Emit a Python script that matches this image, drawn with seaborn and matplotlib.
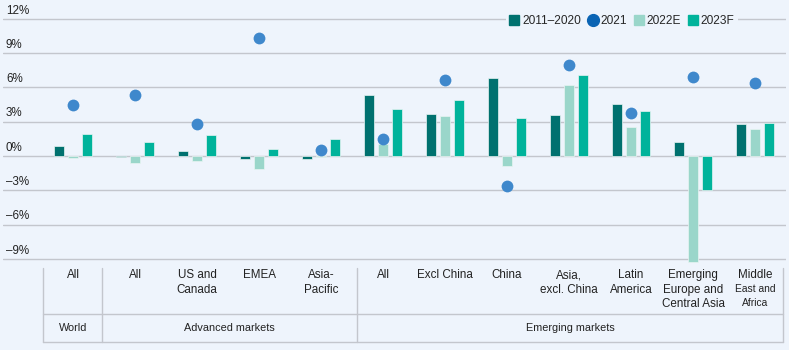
import matplotlib
matplotlib.use("Agg")
import matplotlib.pyplot as plt
import seaborn as sns
import pandas as pd
from matplotlib.lines import Line2D

categories = ["All", "All ", "US and\nCanada", "EMEA", "Asia-\nPacific", "All  ",
              "Excl China", "China", "Asia,\nexcl. China", "Latin\nAmerica",
              "Emerging\nEurope and\nCentral Asia", "Middle\nEast and\nAfrica"]
groups = ["World", "Advanced markets", "Emerging markets"]
series = ["2011–2020", "2022E", "2023F"]
v_2011_2020 = [0.9, -0.1, 0.4, -0.3, -0.3, 5.3, 3.7, 6.8, 3.55, 4.55, 1.2, 2.8]
v_2022E = [-0.2, -0.6, -0.4, -1.1, -0.1, 1.05, 3.5, -0.9, 6.2, 2.5, -9.3, 2.35]
v_2023F = [1.9, 1.2, 1.8, 0.6, 1.5, 4.1, 4.9, 3.35, 7.1, 3.9, -3.0, 2.9]
v_2021 = [4.5, 5.3, 2.8, 10.3, 0.55, 1.45, 6.65, -2.6, 8.0, 3.75, 6.95, 6.35]
yticks = [12, 9, 6, 3, 0, -3, -6, -9]
ytick_labels = ["12%", "9%", "6%", "3%", "0%", "–3%", "–6%", "–9%"]

BG = "#eef4fc"
C_DARK = "#00716f"
C_LIGHT = "#9ad6ca"
C_GREEN = "#00b39b"
C_DOT = "#3f88cc"
C_DOT_LEG = "#0a64b4"
GRID = "#c3c6cd"
TXT = "#222222"

rows = []
for vals, s in zip([v_2011_2020, v_2022E, v_2023F], series):
    for c, v in zip(categories, vals):
        rows.append({"cat": c, "series": s, "value": v})
df = pd.DataFrame(rows)
dots = pd.DataFrame({"cat": categories, "value": v_2021})

sns.set_theme(style="white")
plt.rcParams["font.family"] = ["Liberation Sans", "DejaVu Sans"]

W, H = 789, 350
fig = plt.figure(figsize=(W / 100, H / 100), dpi=100, facecolor=BG)
ylo, yhi = -9.7, 13.3
px_per = 11.43
top_px = 156 - yhi * px_per
bot_px = 156 - ylo * px_per
ax = fig.add_axes([3 / W, 1 - bot_px / H, 783 / W, (bot_px - top_px) / H])
ax.set_facecolor(BG)

for t in yticks:
    ax.axhline(t, color=GRID, lw=1.0, zorder=0)

sns.barplot(data=df, x="cat", y="value", hue="series", order=categories,
            hue_order=series, palette=[C_DARK, C_LIGHT, C_GREEN],
            saturation=1, width=0.68, gap=0.29, ax=ax, legend=False, zorder=2,
            edgecolor="#e8f4f2", linewidth=0.5)
sns.stripplot(data=dots, x="cat", y="value", order=categories, jitter=False,
              color=C_DOT, size=8.5, ax=ax, zorder=3, linewidth=0)

ax.set_xlim(-1.13, 11.5)
ax.set_ylim(ylo, yhi)
for s in ax.spines.values():
    s.set_visible(False)
ax.set_xticks([])
ax.set_yticks([])
ax.set_xlabel("")
ax.set_ylabel("")
for t, lab in zip(yticks, ytick_labels):
    ax.text(3 / 783, t + 0.72, lab, transform=ax.get_yaxis_transform(),
            ha="left", va="center", fontsize=8.4, color=TXT)

# legend
handles = [
    Line2D([], [], marker="s", ls="", color=C_DARK, markersize=7.5),
    Line2D([], [], marker="o", ls="", color=C_DOT_LEG, markersize=8.5),
    Line2D([], [], marker="s", ls="", color=C_LIGHT, markersize=7.5),
    Line2D([], [], marker="s", ls="", color=C_GREEN, markersize=7.5),
]
leg = fig.legend(handles, ["2011–2020", "2021", "2022E", "2023F"],
                 loc="center", bbox_to_anchor=(622 / W, 1 - 21 / H), ncol=4,
                 frameon=True, facecolor=BG, edgecolor=BG, fontsize=8.6,
                 handlelength=0.8, handletextpad=0.25, columnspacing=0.6,
                 borderpad=0.3, framealpha=1)
leg.get_frame().set_linewidth(0)

# table below
def fx(px):
    return px / W

def fy(py):
    return 1 - py / H

line_kw = dict(color=GRID, lw=1.0, transform=fig.transFigure)
for xv in [43, 102, 357, 783]:
    fig.add_artist(Line2D([fx(xv), fx(xv)], [fy(268), fy(342)], **line_kw))
for yv in [314, 342]:
    fig.add_artist(Line2D([fx(43), fx(783)], [fy(yv), fy(yv)], **line_kw))

cat_x = [73 + 62.0 * i for i in range(len(categories))]
for i, (c, xp) in enumerate(zip(categories, cat_x)):
    lines = c.strip().split("\n")
    if i == 11:
        fig.text(fx(xp), fy(269), lines[0], ha="center", va="top",
                 fontsize=8.4, color=TXT)
        fig.text(fx(xp), fy(284), "\n".join(lines[1:]), ha="center", va="top",
                 fontsize=7.4, color=TXT, linespacing=1.45)
    else:
        fig.text(fx(xp), fy(269), "\n".join(lines), ha="center", va="top",
                 fontsize=8.4, color=TXT, linespacing=1.3)

group_x = [73, 229.5, 570]
for g, xp in zip(groups, group_x):
    fig.text(fx(xp), fy(328), g, ha="center", va="center", fontsize=7.8,
             color=TXT)

fig.savefig("out.png", dpi=100, facecolor=BG)
